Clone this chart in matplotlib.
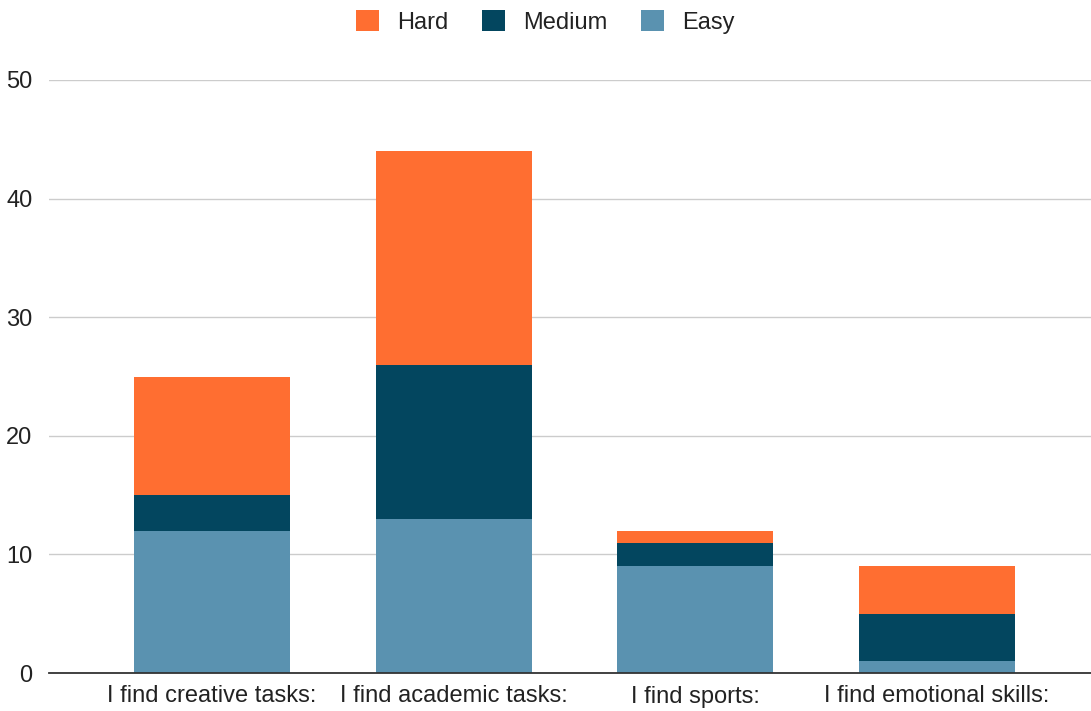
import matplotlib.pyplot as plt
import numpy as np

plt.rcParams['font.family'] = ['Liberation Sans', 'DejaVu Sans']

categories = ["I find creative tasks:", "I find academic tasks:",
              "I find sports:", "I find emotional skills:"]
easy = [12, 13, 9, 1]
medium = [3, 13, 2, 4]
hard = [10, 18, 1, 4]

col_easy = "#5a92b0"
col_medium = "#03465f"
col_hard = "#ff6e31"

fig = plt.figure(figsize=(10.91, 7.11), dpi=100)
ax = fig.add_axes([49 / 1091, 1 - 673 / 711, 1 - 49 / 1091, (673 - 80) / 711])

x = np.arange(len(categories))
w = 0.646
easy_a = np.array(easy)
med_a = np.array(medium)
ax.bar(x, easy, w, color=col_easy, label="Easy", zorder=3)
ax.bar(x, medium, w, bottom=easy_a, color=col_medium, label="Medium", zorder=3)
ax.bar(x, hard, w, bottom=easy_a + med_a, color=col_hard, label="Hard", zorder=3)

ax.set_xlim(-0.675, 3.638)
ax.set_ylim(0, 50)
ax.set_yticks([0, 10, 20, 30, 40, 50])
ax.set_xticks(x)
ax.set_xticklabels(categories)
ax.tick_params(axis='both', length=0, labelsize=17, colors="#222222")
ax.tick_params(axis='y', pad=12)
ax.tick_params(axis='x', pad=9)
ax.grid(axis='y', color="#cccccc", linewidth=1, zorder=0)
for s in ["top", "right", "left"]:
    ax.spines[s].set_visible(False)
ax.spines["bottom"].set_color("#333333")
ax.spines["bottom"].set_linewidth(1.3)
ax.spines["bottom"].set_zorder(4)

handles, labels = ax.get_legend_handles_labels()
order = [2, 1, 0]
fig.legend([handles[i] for i in order], [labels[i] for i in order],
           loc="center", bbox_to_anchor=(0.5, 1 - 22 / 711), ncol=3,
           frameon=False, fontsize=17, handlelength=0.97, handleheight=0.97,
           columnspacing=1.44, handletextpad=0.76, labelcolor="#222222")

fig.savefig("out.png", dpi=100)
